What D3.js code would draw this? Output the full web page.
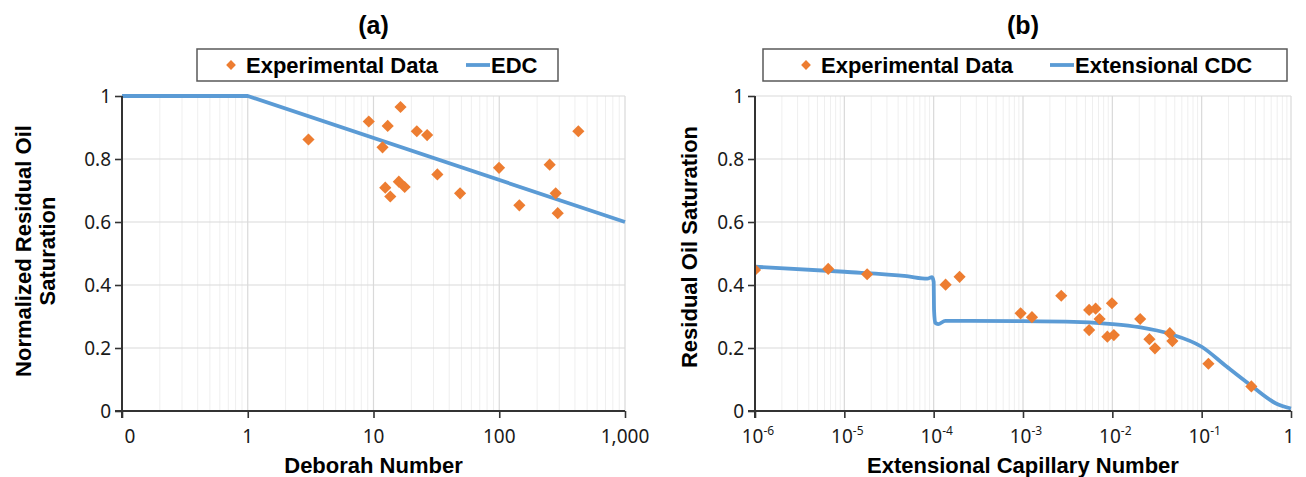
<!DOCTYPE html>
<html>
<head>
<meta charset="utf-8">
<script src="https://cdn.jsdelivr.net/npm/d3@7"></script>
<style>
  body { margin: 0; background: #fff; }
  svg { display: block; }
  .tick-label { font-family: "Noto Sans", sans-serif; font-size: 19px; fill: #1a1a1a; }
  .title { font-family: "Liberation Sans", Arial, sans-serif; font-weight: bold; fill: #000; }
</style>
</head>
<body>
<svg id="chart" width="1306" height="477"></svg>
<script>
  // ---- panel (a) data: Deborah number vs normalized residual oil saturation
  const deborahX = [3.04, 9.17, 12.97, 16.4, 11.8, 22.1, 26.7, 12.4, 13.6, 15.9, 17.7, 32.2, 48.8, 99.6, 144.5, 251.8, 281, 291.7, 425.6];
  const deborahY = [0.862, 0.919, 0.905, 0.965, 0.837, 0.888, 0.876, 0.709, 0.681, 0.728, 0.711, 0.751, 0.691, 0.772, 0.653, 0.782, 0.691, 0.628, 0.888];
  const edcX = [0.1, 1, 1000];
  const edcY = [1, 1, 0.6];
  const deborahTicks = [0.1, 1, 10, 100, 1000];
  const deborahTickLabels = ['0', '1', '10', '100', '1,000'];

  // ---- panel (b) data: extensional capillary number vs residual oil saturation
  const capX = [1e-6, 6.6e-6, 1.8e-5, 1.36e-4, 1.95e-4, 9.4e-4, 1.26e-3, 2.68e-3, 5.5e-3, 6.5e-3, 7.2e-3, 5.5e-3, 9.9e-3, 8.8e-3, 1.04e-2, 2.05e-2, 2.6e-2, 3.0e-2, 4.4e-2, 4.7e-2, 0.119, 0.36];
  const capY = [0.448, 0.451, 0.434, 0.401, 0.426, 0.310, 0.298, 0.366, 0.321, 0.325, 0.292, 0.257, 0.342, 0.236, 0.241, 0.292, 0.228, 0.199, 0.247, 0.222, 0.150, 0.078];
  const cdcX = [1e-6, 1e-5, 5e-5, 8.5e-5, 9.6e-5, 1.0e-4, 1.01e-4, 1.04e-4, 1.12e-4, 1.35e-4, 1e-3, 3e-3, 1e-2, 2e-2, 4.5e-2, 0.1, 0.19, 0.36, 0.68, 1];
  const cdcY = [0.458, 0.442, 0.428, 0.420, 0.425, 0.41, 0.32, 0.28, 0.276, 0.286, 0.285, 0.284, 0.276, 0.266, 0.244, 0.204, 0.141, 0.080, 0.024, 0.008];
  const capTicks = [1e-6, 1e-5, 1e-4, 1e-3, 1e-2, 1e-1, 1];
  const capTickExp = ['-6', '-5', '-4', '-3', '-2', '-1', null];

  const yTicks = [0, 0.2, 0.4, 0.6, 0.8, 1];
  const yTickLabels = ['0', '0.2', '0.4', '0.6', '0.8', '1'];

  const orange = '#ED7D31';
  const blue = '#5B9BD5';
  const axisColor = '#333333';

  const svg = d3.select('#chart');

  // diamond marker = rotated square
  const diamond = d3.symbol().type(d3.symbolSquare).size(74);

  function minorTicks(domain) {
    // 2..9 inside every decade
    const out = [];
    const lo = Math.round(Math.log10(domain[0]));
    const hi = Math.round(Math.log10(domain[1]));
    for (let e = lo; e < hi; e++) {
      for (let k = 2; k <= 9; k++) out.push(k * Math.pow(10, e));
    }
    return out;
  }

  function drawPanel(opt) {
    const g = svg.append('g');
    const x = opt.x, y = opt.y;
    const [x0, x1] = x.range();
    const [y0, y1] = y.range();

    // minor vertical grid
    g.selectAll('.minor').data(minorTicks(x.domain())).enter().append('line')
      .attr('x1', d => x(d)).attr('x2', d => x(d))
      .attr('y1', y0).attr('y2', y1)
      .attr('stroke', '#efefef').attr('stroke-width', 1);

    // major vertical grid
    g.selectAll('.major').data(opt.ticks).enter().append('line')
      .attr('x1', d => x(d)).attr('x2', d => x(d))
      .attr('y1', y0).attr('y2', y1)
      .attr('stroke', '#d9d9d9').attr('stroke-width', 1.2);

    // horizontal grid
    g.selectAll('.hgrid').data(yTicks.slice(1)).enter().append('line')
      .attr('x1', x0).attr('x2', x1)
      .attr('y1', d => y(d)).attr('y2', d => y(d))
      .attr('stroke', '#d9d9d9').attr('stroke-width', 1.2);

    // clip for marks
    const clipId = 'clip-' + opt.id;
    svg.append('clipPath').attr('id', clipId).append('rect')
      .attr('x', x0).attr('y', y1 - 10).attr('width', x1 - x0 + 10).attr('height', y0 - y1 + 10);

    // model line
    const line = d3.line()
      .x(d => x(d[0])).y(d => y(d[1]))
      .curve(opt.curve);
    g.append('path')
      .datum(d3.zip(opt.lineX, opt.lineY))
      .attr('d', line)
      .attr('fill', 'none')
      .attr('stroke', blue)
      .attr('stroke-width', 3.8)
      .attr('stroke-linejoin', 'round');

    // experimental points
    g.append('g').attr('clip-path', `url(#${clipId})`)
      .selectAll('path').data(d3.zip(opt.ptX, opt.ptY)).enter().append('path')
      .attr('d', diamond)
      .attr('transform', d => `translate(${x(d[0])},${y(d[1])}) rotate(45)`)
      .attr('fill', orange);

    // axes
    const yAxis = d3.axisLeft(y).tickValues(yTicks).tickSize(7).tickFormat('');
    g.append('g').attr('transform', `translate(${x0},0)`).call(yAxis)
      .call(a => a.selectAll('line, path').attr('stroke', axisColor).attr('stroke-width', 1.6))
      .call(a => a.select('.domain').attr('d', `M0,${y0 + 7}V${y1}`).attr('stroke-width', 2));

    const xAxis = d3.axisBottom(x).tickValues(opt.ticks).tickSize(7).tickFormat('');
    g.append('g').attr('transform', `translate(0,${y0})`).call(xAxis)
      .call(a => a.selectAll('line, path').attr('stroke', axisColor).attr('stroke-width', 1.6))
      .call(a => a.select('.domain').attr('d', `M${x0 - 7},0H${x1}`).attr('stroke-width', 2));

    // y tick labels
    g.selectAll('.ylab').data(yTicks).enter().append('text')
      .attr('class', 'tick-label')
      .attr('x', x0 - 11).attr('y', d => y(d))
      .attr('dy', '0.35em')
      .attr('text-anchor', 'end')
      .text((d, i) => yTickLabels[i]);

    opt.xLabels(g, x, y0);

    // axis titles
    g.append('text').attr('class', 'title')
      .attr('x', (x0 + x1) / 2).attr('y', 473)
      .attr('text-anchor', 'middle').attr('font-size', 22)
      .text(opt.xTitle);

    opt.yTitle.forEach((t, i) => {
      g.append('text').attr('class', 'title')
        .attr('transform', `translate(${opt.yTitleX[i]},${opt.yTitleY}) rotate(-90)`)
        .attr('text-anchor', 'middle').attr('font-size', 22)
        .text(t);
    });

    // panel label
    g.append('text').attr('class', 'title')
      .attr('x', (x0 + x1) / 2).attr('y', 34)
      .attr('text-anchor', 'middle').attr('font-size', 25)
      .text(opt.label);

    // legend
    const lg = g.append('g');
    lg.append('rect')
      .attr('x', opt.legend.x).attr('y', 49)
      .attr('width', opt.legend.w).attr('height', 32)
      .attr('fill', '#fff').attr('stroke', '#595959').attr('stroke-width', 1.5);
    lg.append('path')
      .attr('d', d3.symbol().type(d3.symbolSquare).size(48))
      .attr('transform', `translate(${opt.legend.x + opt.legend.dot},65) rotate(45)`)
      .attr('fill', orange);
    lg.append('text').attr('class', 'title')
      .attr('x', opt.legend.x + opt.legend.dot + 15).attr('y', 73)
      .attr('font-size', 22).text('Experimental Data');
    lg.append('line')
      .attr('x1', opt.legend.x + opt.legend.ln).attr('x2', opt.legend.x + opt.legend.ln + 24)
      .attr('y1', 65).attr('y2', 65)
      .attr('stroke', blue).attr('stroke-width', 3.8);
    lg.append('text').attr('class', 'title')
      .attr('x', opt.legend.x + opt.legend.ln + 25).attr('y', 73)
      .attr('font-size', 22).text(opt.lineName);
  }

  // ---- panel (a)
  drawPanel({
    id: 'a',
    label: '(a)',
    x: d3.scaleLog().domain([0.1, 1000]).range([122, 625]),
    y: d3.scaleLinear().domain([0, 1]).range([411, 96]),
    ticks: deborahTicks,
    ptX: deborahX, ptY: deborahY,
    lineX: edcX, lineY: edcY,
    curve: d3.curveLinear,
    lineName: 'EDC',
    xTitle: 'Deborah Number',
    yTitle: ['Normalized Residual Oil', 'Saturation'],
    yTitleX: [31, 55],
    yTitleY: 251,
    legend: { x: 197, w: 361, dot: 34, ln: 269 },
    xLabels: (g, x, y0) => {
      g.selectAll('.xlab').data(deborahTicks).enter().append('text')
        .attr('class', 'tick-label')
        .attr('x', (d, i) => x(d) + (i === 0 ? 8 : 0)).attr('y', y0 + 32)
        .attr('text-anchor', 'middle')
        .text((d, i) => deborahTickLabels[i]);
    }
  });

  // ---- panel (b)
  drawPanel({
    id: 'b',
    label: '(b)',
    x: d3.scaleLog().domain([1e-6, 1]).range([755, 1291]),
    y: d3.scaleLinear().domain([0, 1]).range([411, 96]),
    ticks: capTicks,
    ptX: capX, ptY: capY,
    lineX: cdcX, lineY: cdcY,
    curve: d3.curveMonotoneX,
    lineName: 'Extensional CDC',
    xTitle: 'Extensional Capillary Number',
    yTitle: ['Residual Oil Saturation'],
    yTitleX: [697],
    yTitleY: 247,
    legend: { x: 763, w: 524, dot: 43, ln: 287 },
    xLabels: (g, x, y0) => {
      const t = g.selectAll('.xlab').data(capTicks).enter().append('text')
        .attr('class', 'tick-label')
        .attr('x', (d, i) => x(d) + (capTickExp[i] ? 3 : -2)).attr('y', y0 + 32)
        .attr('text-anchor', 'middle');
      t.append('tspan').text((d, i) => capTickExp[i] ? '10' : '1');
      t.filter((d, i) => capTickExp[i])
        .append('tspan')
        .attr('dy', -8).attr('font-size', 12)
        .text((d, i) => capTickExp[capTicks.indexOf(d)]);
    }
  });
</script>
</body>
</html>
